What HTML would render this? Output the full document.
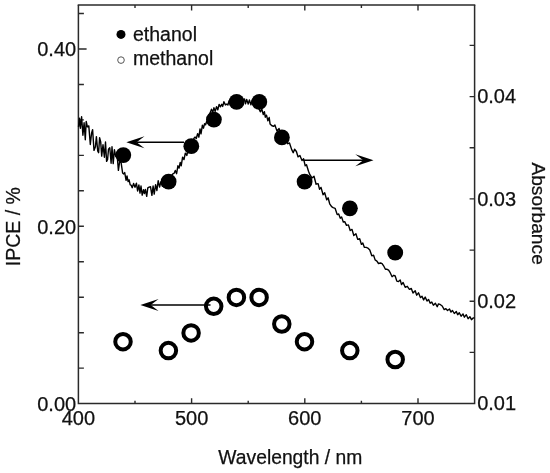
<!DOCTYPE html>
<html><head><meta charset="utf-8"><title>IPCE spectra</title>
<style>html,body{margin:0;padding:0;background:#fff}svg{display:block}</style></head>
<body>
<svg width="550" height="473" viewBox="0 0 550 473">
<rect width="550" height="473" fill="#fff"/>
<path d="M78.4 5.0V403.6H474.6V5.0" fill="none" stroke="#2a2a2a" stroke-width="1.5"/>
<path d="M77.7 5.0H475.3" fill="none" stroke="#2a2a2a" stroke-width="1.4"/>
<path d="M78.4 368.1h5.5 M78.4 332.7h5.5 M78.4 297.2h5.5 M78.4 261.8h5.5 M78.4 226.3h5.5 M78.4 190.8h5.5 M78.4 155.4h5.5 M78.4 119.9h5.5 M78.4 84.5h5.5 M78.4 49.0h8.2 M78.4 13.5h5.5 M474.6 352.4h-5.0 M474.6 301.3h-5.0 M474.6 250.1h-5.0 M474.6 198.9h-5.0 M474.6 147.8h-5.0 M474.6 96.6h-5.0 M474.6 45.4h-5.0 M135.0 403.6v-2.9 M135.0 5.0v2.9 M191.6 403.6v-5.4 M191.6 5.0v5.4 M248.2 403.6v-2.9 M248.2 5.0v2.9 M304.8 403.6v-5.4 M304.8 5.0v5.4 M361.4 403.6v-2.9 M361.4 5.0v2.9 M418.0 403.6v-5.4 M418.0 5.0v5.4" stroke="#2a2a2a" stroke-width="1.4" fill="none"/>
<path d="M78.5 126.9 L79.5 118.2 L80.4 128.3 L81.6 116.8 L82.9 135.2 L84.1 122.8 L85.3 139.8 L86.2 121.5 L87.4 126.8 L88.8 125.9 L90.3 144.5 L91.6 133.0 L92.6 129.6 L94.0 150.4 L95.4 146.7 L96.4 136.6 L97.7 151.0 L98.6 152.7 L99.6 137.8 L100.7 141.9 L101.7 156.1 L103.0 144.8 L104.4 157.2 L105.5 142.0 L106.6 161.4 L107.6 159.4 L108.5 149.3 L109.8 147.8 L111.1 163.2 L112.0 146.8 L113.2 163.6 L114.4 149.6 L115.8 156.6 L117.1 154.7 L118.4 170.4 L119.6 161.8 L121.1 162.7 L122.6 172.9 L123.7 173.9 L124.7 172.6 L126.1 180.4 L127.0 175.9 L128.1 181.6 L129.1 179.8 L130.2 184.9 L131.1 185.1 L132.2 187.7 L133.6 183.5 L135.0 187.3 L136.4 183.2 L137.6 191.0 L138.9 185.0 L140.0 193.1 L141.0 186.0 L142.2 195.2 L143.5 189.6 L144.4 193.6 L145.4 189.5 L146.7 196.4 L147.8 187.9 L149.1 187.1 L150.5 186.7 L151.9 195.3 L153.1 186.0 L154.2 194.1 L155.6 184.6 L156.9 190.5 L158.2 180.6 L159.6 187.1 L160.9 181.6 L162.4 186.3 L163.5 181.2 L164.8 184.1 L166.3 179.1 L167.4 177.5 L168.6 179.6 L169.8 182.0 L170.9 177.1 L171.9 175.3 L172.8 173.8 L174.1 173.3 L175.3 170.4 L176.6 173.7 L177.9 165.8 L179.1 168.1 L180.2 162.4 L181.2 165.8 L182.6 157.2 L184.0 159.6 L185.3 153.1 L186.8 155.5 L188.0 150.0 L189.4 151.6 L190.4 150.2 L191.7 147.1 L192.8 141.0 L194.0 138.2 L195.1 137.1 L196.3 138.5 L197.6 133.6 L198.9 137.2 L200.0 129.0 L201.0 133.8 L202.4 125.2 L203.5 128.2 L204.6 123.7 L205.6 124.7 L206.7 121.3 L207.6 123.0 L208.7 116.1 L210.1 112.9 L211.5 109.2 L212.8 112.2 L213.9 107.8 L215.2 111.4 L216.5 106.6 L217.8 109.9 L219.1 104.4 L220.5 106.8 L221.7 104.3 L222.7 106.4 L223.9 101.8 L225.4 104.9 L226.7 104.1 L227.9 105.0 L229.1 100.6 L230.4 103.3 L231.6 98.4 L232.8 102.9 L234.3 98.0 L235.8 102.2 L237.2 99.4 L238.1 101.6 L239.4 103.5 L240.5 101.8 L241.9 101.8 L243.0 102.2 L244.5 99.0 L245.5 103.8 L246.7 99.4 L248.2 104.1 L249.4 99.9 L250.9 104.9 L252.1 100.3 L253.1 104.2 L254.5 101.8 L255.7 107.1 L256.9 103.1 L257.9 108.3 L258.8 108.4 L260.3 111.8 L261.8 109.3 L263.3 114.5 L264.4 111.7 L265.3 117.2 L266.5 115.2 L267.9 120.8 L269.2 117.5 L270.1 124.1 L271.6 125.5 L273.5 126.4 L274.9 125.0 L276.9 130.9 L279.1 128.6 L280.6 134.1 L282.0 132.8 L284.1 139.7 L286.1 138.3 L287.8 143.7 L289.5 143.0 L291.6 149.4 L293.2 152.7 L294.6 149.2 L296.4 151.5 L298.0 156.8 L299.9 155.5 L302.0 160.6 L303.6 158.8 L305.2 165.8 L306.5 164.7 L308.5 171.3 L309.9 174.7 L312.0 178.0 L314.0 176.3 L316.1 184.2 L318.1 183.6 L319.5 189.2 L321.0 187.4 L323.1 194.7 L324.7 192.8 L326.7 199.9 L328.1 197.8 L329.7 203.8 L331.6 206.7 L333.1 207.6 L335.1 208.3 L337.2 214.6 L338.7 214.0 L340.3 218.2 L341.6 216.9 L343.3 222.1 L344.7 221.6 L346.5 225.4 L348.4 224.9 L350.2 230.5 L352.0 229.4 L353.8 235.5 L355.9 233.7 L357.7 239.4 L359.7 238.7 L361.4 244.4 L362.8 242.9 L364.3 247.3 L366.3 247.4 L367.8 248.1 L369.8 250.1 L371.8 255.8 L373.6 255.2 L375.1 259.9 L376.9 261.1 L378.5 263.5 L380.6 263.0 L382.1 263.6 L383.6 265.8 L385.4 269.3 L387.1 269.3 L388.6 270.2 L390.2 272.7 L392.1 276.7 L393.8 275.3 L395.2 276.0 L396.8 281.1 L398.5 281.5 L400.2 279.9 L401.5 284.6 L403.1 282.5 L405.2 287.3 L407.3 286.3 L409.4 289.3 L411.3 288.5 L413.0 293.0 L415.2 290.8 L416.7 295.2 L418.5 292.8 L420.4 297.6 L422.0 296.3 L423.6 299.9 L425.2 297.1 L427.0 301.0 L428.6 299.4 L430.2 303.2 L431.8 302.1 L433.4 305.2 L435.4 303.2 L437.2 306.7 L438.5 303.9 L440.5 304.7 L442.2 306.0 L444.2 309.6 L445.9 308.6 L447.5 310.5 L449.5 309.0 L451.0 312.1 L452.5 310.5 L454.3 313.5 L456.3 311.6 L457.7 314.7 L459.3 312.7 L461.1 316.2 L463.0 313.9 L464.4 317.2 L466.3 314.7 L468.1 318.7 L469.9 316.7 L471.5 319.7 L473.1 318.0 L474.5 317.9" stroke="#000" stroke-width="1.4" fill="none" stroke-linejoin="round"/>
<circle cx="123.3" cy="155.1" r="7.9" fill="#000"/>
<circle cx="168.6" cy="181.7" r="7.9" fill="#000"/>
<circle cx="191.3" cy="146.2" r="7.9" fill="#000"/>
<circle cx="213.9" cy="119.6" r="7.9" fill="#000"/>
<circle cx="236.6" cy="101.9" r="7.9" fill="#000"/>
<circle cx="259.3" cy="101.9" r="7.9" fill="#000"/>
<circle cx="281.9" cy="137.4" r="7.9" fill="#000"/>
<circle cx="304.6" cy="181.7" r="7.9" fill="#000"/>
<circle cx="349.9" cy="208.3" r="7.9" fill="#000"/>
<circle cx="395.2" cy="252.6" r="7.9" fill="#000"/>
<circle cx="123.0" cy="341.7" r="7.75" fill="#fff" stroke="#000" stroke-width="4"/>
<circle cx="168.4" cy="350.6" r="7.75" fill="#fff" stroke="#000" stroke-width="4"/>
<circle cx="191.1" cy="332.9" r="7.75" fill="#fff" stroke="#000" stroke-width="4"/>
<circle cx="213.7" cy="306.3" r="7.75" fill="#fff" stroke="#000" stroke-width="4"/>
<circle cx="236.4" cy="297.4" r="7.75" fill="#fff" stroke="#000" stroke-width="4"/>
<circle cx="259.1" cy="297.4" r="7.75" fill="#fff" stroke="#000" stroke-width="4"/>
<circle cx="281.8" cy="324.0" r="7.75" fill="#fff" stroke="#000" stroke-width="4"/>
<circle cx="304.5" cy="341.7" r="7.75" fill="#fff" stroke="#000" stroke-width="4"/>
<circle cx="349.8" cy="350.6" r="7.75" fill="#fff" stroke="#000" stroke-width="4"/>
<circle cx="395.2" cy="359.5" r="7.75" fill="#fff" stroke="#000" stroke-width="4"/>
<path d="M184 142.2H136.6" stroke="#000" stroke-width="1.55" fill="none"/><path d="M126.3 142.2L144.5 136.2L136.6 142.2L144.5 148.2Z" fill="#000"/>
<path d="M303.2 160.3H363.2" stroke="#000" stroke-width="1.55" fill="none"/><path d="M373.5 160.3L355.3 154.3L363.2 160.3L355.3 166.3Z" fill="#000"/>
<path d="M210.5 305H150.7" stroke="#000" stroke-width="1.55" fill="none"/><path d="M140.4 305L158.6 299.0L150.7 305L158.6 311.0Z" fill="#000"/>
<circle cx="121" cy="34.4" r="4.5" fill="#000"/>
<circle cx="121" cy="60.1" r="3.3" fill="#fff" stroke="#555" stroke-width="1"/>
<g font-family="'Liberation Sans', Arial, Helvetica, sans-serif" font-size="20" fill="#111" stroke="#111" stroke-width="0.25">
<text x="76.2" y="411.0" text-anchor="end">0.00</text>
<text x="76.2" y="233.7" text-anchor="end">0.20</text>
<text x="76.2" y="56.4" text-anchor="end">0.40</text>
<text x="477.2" y="410.4">0.01</text>
<text x="477.2" y="308.1">0.02</text>
<text x="477.2" y="205.7">0.03</text>
<text x="477.2" y="103.4">0.04</text>
<text x="78.4" y="424.8" text-anchor="middle">400</text>
<text x="191.6" y="424.8" text-anchor="middle">500</text>
<text x="304.8" y="424.8" text-anchor="middle">600</text>
<text x="418.0" y="424.8" text-anchor="middle">700</text>
</g>
<g font-family="'Liberation Sans', Arial, Helvetica, sans-serif" font-size="19.5" fill="#111" stroke="#111" stroke-width="0.25">
<text x="133" y="40.7">ethanol</text>
<text x="133" y="64.8">methanol</text>
<text x="290.3" y="463.8" text-anchor="middle" font-size="19.3">Wavelength / nm</text>
<text transform="translate(20.4 226.7) rotate(-90)" text-anchor="middle">IPCE / %</text>
<text transform="translate(532.3 213.6) rotate(90)" text-anchor="middle" font-size="19.2">Absorbance</text>
</g>
</svg>
</body></html>
